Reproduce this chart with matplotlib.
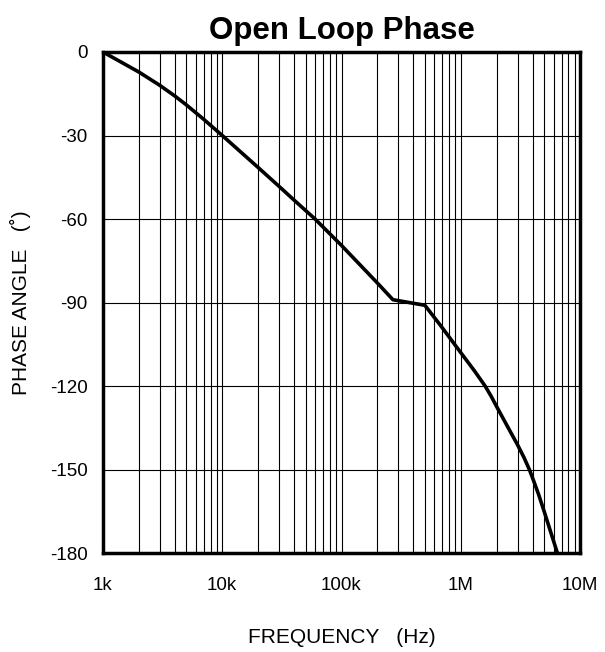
import numpy as np
import matplotlib
matplotlib.use("Agg")
import matplotlib.pyplot as plt
from matplotlib.ticker import FixedLocator, NullFormatter

plt.rcParams['font.family'] = ['Liberation Sans', 'DejaVu Sans']
plt.rcParams['axes.unicode_minus'] = False

# curve (Hz, degrees)
freq = [1e3, 2e3, 3e3, 4e3, 5e3, 7e3, 10e3, 20e3, 30e3, 40e3, 60e3, 100e3,
        200e3, 270e3, 500e3, 670e3, 1e6, 1.3e6, 1.6e6, 1.8e6, 2e6, 2.5e6,
        3e6, 3.4e6, 3.76e6, 4e6, 4.5e6, 5e6, 6.46e6]
phase = [0, -7.2, -12, -15.8, -19, -24.2, -30, -41.5, -48.3, -53.2, -60,
         -69.5, -83, -89, -91, -98, -108, -114.5, -120, -123.7, -127.4, -135,
         -141.2, -145.8, -150, -153, -159, -165, -180]

xticks = [1e3, 1e4, 1e5, 1e6, 1e7]
xlabels = ['1k', '10k', '100k', '1M', '10M']
yticks = [0, -30, -60, -90, -120, -150, -180]

fig = plt.figure(figsize=(6.05, 6.52), dpi=100)
ax = fig.add_axes([103/605, 1-553/652, 477/605, 501/652])

ax.semilogx(freq, phase, color='black', lw=2.6, zorder=3,
            solid_joinstyle='round')

ax.set_xlim(1e3, 1e7)
ax.set_ylim(-180, 0)
ax.set_xticks(xticks)
ax.set_xticklabels(xlabels)
minors = [m * 10**d for d in range(3, 7) for m in range(2, 10)]
ax.xaxis.set_minor_locator(FixedLocator(minors))
ax.xaxis.set_minor_formatter(NullFormatter())
ax.set_yticks(yticks)

ax.grid(True, which='both', axis='x', color='black', lw=0.8)
ax.grid(True, which='major', axis='y', color='black', lw=0.8)
ax.tick_params(which='both', length=0, labelsize=13.5)
ax.tick_params(axis='x', pad=17)
ax.tick_params(axis='y', pad=11)

for s in ax.spines.values():
    s.set_linewidth(2.5)

ax.set_title('Open Loop Phase', fontsize=22.5, fontweight='bold', pad=9)
ax.set_xlabel('FREQUENCY   (Hz)', fontsize=15, labelpad=25)
ax.set_ylabel('PHASE ANGLE   (˚)', fontsize=15, labelpad=14)

fig.savefig('out.png', dpi=100)
